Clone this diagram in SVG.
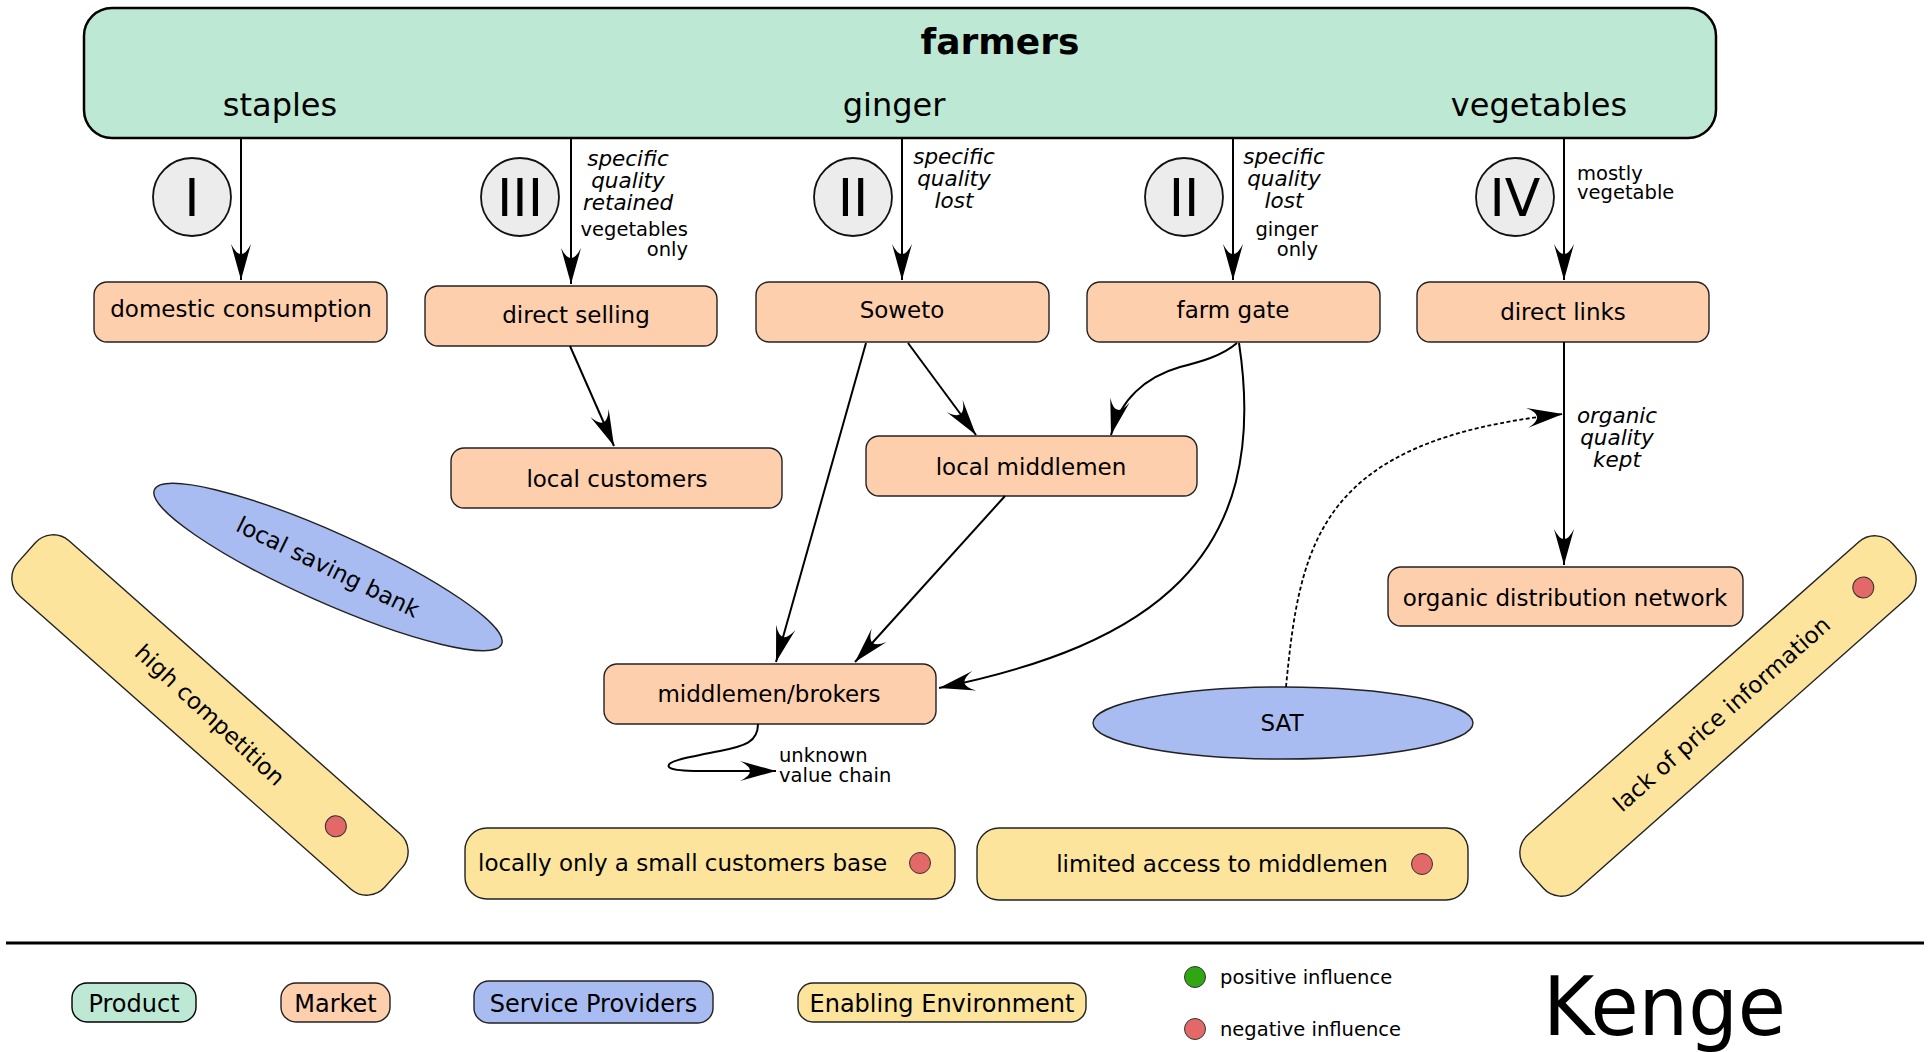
<svg xmlns="http://www.w3.org/2000/svg" width="1928" height="1052" viewBox="0 0 1928 1052">
<defs>
<style>
text{font-family:"DejaVu Sans","Liberation Sans",sans-serif;fill:#000}
.prod{fill:#bde9d4;stroke:#000;stroke-width:2.5}
.mkt{fill:#fecfad;stroke:#222;stroke-width:1.4}
.svc{fill:#a9bcf2;stroke:#222;stroke-width:1.4}
.env{fill:#fde49c;stroke:#222;stroke-width:1.4}
.num{fill:#ececec;stroke:#111;stroke-width:1.8}
.neg{fill:#e36868;stroke:#333;stroke-width:1}
.pos{fill:#2fa612;stroke:#333;stroke-width:1}
.bx{font-size:23px;text-anchor:middle}
.lbl{font-size:21.5px;font-style:italic;text-anchor:middle}
.sm{font-size:19.5px}
.rn{font-size:52px;text-anchor:middle}
.c{fill:none;stroke:#000;stroke-width:2}
.d{fill:none;stroke:#000;stroke-width:1.8;stroke-dasharray:4,2.5}
.lg{font-size:24px;text-anchor:middle}
</style>
<marker id="ah" viewBox="-40 -12 42 24" refX="0" refY="0" markerWidth="42" markerHeight="24" markerUnits="userSpaceOnUse" orient="auto">
<path d="M0,0 L-36,-10 Q-16,0 -36,10 Z" fill="#000"/>
</marker>
</defs>

<g id="farmers">
<rect class="prod" x="84" y="8" width="1632" height="130" rx="28"/>
<text x="1000" y="54" font-size="36" font-weight="bold" text-anchor="middle">farmers</text>
<text x="280" y="116" font-size="32" text-anchor="middle">staples</text>
<text x="894" y="116" font-size="32" text-anchor="middle">ginger</text>
<text x="1539" y="116" font-size="32" text-anchor="middle">vegetables</text>
</g>

<g id="num-I"><ellipse class="num" cx="192" cy="197" rx="39" ry="39"/><text class="rn" x="192" y="216">I</text></g>
<g id="num-III"><ellipse class="num" cx="520" cy="197" rx="39" ry="39"/><text class="rn" x="520" y="216">III</text></g>
<g id="num-II-a"><ellipse class="num" cx="853" cy="197" rx="39" ry="39"/><text class="rn" x="853" y="216">II</text></g>
<g id="num-II-b"><ellipse class="num" cx="1184" cy="197" rx="39" ry="39"/><text class="rn" x="1184" y="216">II</text></g>
<g id="num-IV"><ellipse class="num" cx="1515" cy="197" rx="39" ry="39"/><text class="rn" x="1515" y="216">IV</text></g>

<g id="domestic-consumption"><rect class="mkt" x="94" y="282" width="293" height="60" rx="13"/><text class="bx" x="241" y="317">domestic consumption</text></g>
<g id="direct-selling"><rect class="mkt" x="425" y="286" width="292" height="60" rx="13"/><text class="bx" x="576" y="323">direct selling</text></g>
<g id="soweto"><rect class="mkt" x="756" y="282" width="293" height="60" rx="13"/><text class="bx" x="902" y="318">Soweto</text></g>
<g id="farm-gate"><rect class="mkt" x="1087" y="282" width="293" height="60" rx="13"/><text class="bx" x="1233" y="318">farm gate</text></g>
<g id="direct-links"><rect class="mkt" x="1417" y="282" width="292" height="60" rx="13"/><text class="bx" x="1563" y="320">direct links</text></g>
<g id="local-customers"><rect class="mkt" x="451" y="448" width="331" height="60" rx="13"/><text class="bx" x="617" y="487">local customers</text></g>
<g id="local-middlemen"><rect class="mkt" x="866" y="436" width="331" height="60" rx="13"/><text class="bx" x="1031" y="475">local middlemen</text></g>
<g id="middlemen-brokers"><rect class="mkt" x="604" y="664" width="332" height="60" rx="13"/><text class="bx" x="769" y="702">middlemen/brokers</text></g>
<g id="organic-distribution-network"><rect class="mkt" x="1388" y="567" width="355" height="59" rx="13"/><text class="bx" x="1565" y="606">organic distribution network</text></g>

<g id="sat"><ellipse class="svc" cx="1283" cy="723" rx="190" ry="36"/><text class="bx" x="1282" y="731">SAT</text></g>
<g id="local-saving-bank" transform="translate(328,567) rotate(24)"><ellipse class="svc" cx="0" cy="0" rx="190" ry="35"/><text class="bx" x="0" y="8" transform="rotate(2)">local saving bank</text></g>

<g id="high-competition" transform="translate(210,715) rotate(41.5)"><rect class="env" x="-245" y="-37" width="490" height="74" rx="24"/><text class="bx" x="0" y="8" transform="rotate(1.5)">high competition</text><circle class="neg" cx="168" cy="0" r="10.5"/></g>
<g id="lack-of-price-information" transform="translate(1718,716) rotate(-41.5)"><rect class="env" x="-245" y="-37" width="490" height="74" rx="24"/><text class="bx" x="4" y="9">lack of price information</text><circle class="neg" cx="194" cy="0" r="10.5"/></g>
<g id="small-customers-base"><rect class="env" x="465" y="828" width="490" height="71" rx="22"/><text x="478" y="871" font-size="23">locally only a small customers base</text><circle class="neg" cx="920" cy="863" r="10.5"/></g>
<g id="limited-access"><rect class="env" x="977" y="828" width="491" height="72" rx="22"/><text class="bx" x="1222" y="872">limited access to middlemen</text><circle class="neg" cx="1422" cy="864" r="10.5"/></g>

<g id="connectors">
<path class="c" d="M241,138 V280" marker-end="url(#ah)"/>
<path class="c" d="M571,138 V284" marker-end="url(#ah)"/>
<path class="c" d="M902,138 V280" marker-end="url(#ah)"/>
<path class="c" d="M1233,138 V280" marker-end="url(#ah)"/>
<path class="c" d="M1564,138 V280" marker-end="url(#ah)"/>
<path class="c" d="M570,346 L614,446" marker-end="url(#ah)"/>
<path class="c" d="M866,343 L776,662" marker-end="url(#ah)"/>
<path class="c" d="M908,343 L976,435" marker-end="url(#ah)"/>
<path class="c" d="M1005,496 L855,662" marker-end="url(#ah)"/>
<path class="c" d="M1237,343 C1222,356 1200,362 1180,367 C1145,377 1120,400 1111,435" marker-end="url(#ah)"/>
<path class="c" d="M1239,343 C1272,560 1150,645 939,688" marker-end="url(#ah)"/>
<path class="c" d="M1564,342 V565" marker-end="url(#ah)"/>
<path class="c" d="M758,724 C758,742 745,746 720,751 C690,757 665,761 669,767 C672,772 700,771 776,771" marker-end="url(#ah)"/>
<path class="d" d="M1286,687 C1300,540 1320,440 1563,414" marker-end="url(#ah)"/>
</g>

<g id="connector-labels">
<text class="lbl" x="628" y="166">specific</text>
<text class="lbl" x="628" y="188">quality</text>
<text class="lbl" x="628" y="210">retained</text>
<text class="sm" x="688" y="236" text-anchor="end">vegetables</text>
<text class="sm" x="688" y="256" text-anchor="end">only</text>
<text class="lbl" x="954" y="164">specific</text>
<text class="lbl" x="954" y="186">quality</text>
<text class="lbl" x="954" y="208">lost</text>
<text class="lbl" x="1284" y="164">specific</text>
<text class="lbl" x="1284" y="186">quality</text>
<text class="lbl" x="1284" y="208">lost</text>
<text class="sm" x="1318" y="236" text-anchor="end">ginger</text>
<text class="sm" x="1318" y="256" text-anchor="end">only</text>
<text class="sm" x="1577" y="180">mostly</text>
<text class="sm" x="1577" y="199">vegetable</text>
<text class="lbl" x="1617" y="423">organic</text>
<text class="lbl" x="1617" y="445">quality</text>
<text class="lbl" x="1617" y="467">kept</text>
<text class="sm" x="779" y="762">unknown</text>
<text class="sm" x="779" y="782">value chain</text>
</g>

<g id="legend">
<line x1="6" y1="943" x2="1924" y2="943" stroke="#000" stroke-width="3"/>
<rect class="prod" x="72" y="983" width="124" height="39" rx="15" style="stroke-width:1.4"/>
<text class="lg" x="134" y="1012">Product</text>
<rect class="mkt" x="281" y="983" width="109" height="39" rx="15"/>
<text class="lg" x="335.5" y="1012">Market</text>
<rect class="svc" x="474" y="981" width="239" height="42" rx="15"/>
<text class="lg" x="593.5" y="1012">Service Providers</text>
<rect class="env" x="798" y="983" width="288" height="39" rx="15"/>
<text class="lg" x="942" y="1012">Enabling Environment</text>
<circle class="pos" cx="1195" cy="977" r="10.5"/>
<text class="sm" x="1220" y="984">positive influence</text>
<circle class="neg" cx="1195" cy="1029" r="10.5"/>
<text class="sm" x="1220" y="1036">negative influence</text>
<text x="1543" y="1035" font-size="82" textLength="243" lengthAdjust="spacingAndGlyphs">Kenge</text>
</g>
</svg>
